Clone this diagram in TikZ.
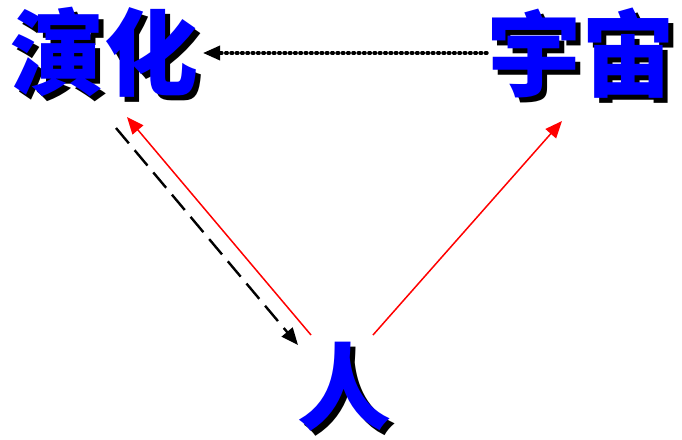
\documentclass[tikz,border=0pt]{standalone}
\usepackage{fontspec}
\newfontfamily\cjk{Noto Sans CJK SC}
\usepackage{xcolor}
\usetikzlibrary{arrows.meta}
\definecolor{wordblue}{RGB}{0,0,255}

\begin{document}
\begin{tikzpicture}[x=1pt,y=-1pt,>={Triangle[length=17pt,width=14pt]}]
    % 样式：蓝色大字与黑色阴影
    \tikzset{
        bigword/.style={font=\cjk\bfseries\fontsize{94}{94}\selectfont,inner sep=0pt,text=wordblue},
        wordshadow/.style={bigword,text=black},
    }
    \def\sh{5}   % 阴影偏移

    % 画布范围
    \useasboundingbox (0,0) rectangle (682,439);

    % 阴影文字
    \node[wordshadow] at (104+\sh,52+\sh) {演化};
    \node[wordshadow] at (581+\sh,53+\sh) {宇宙};
    \node[wordshadow] at (344+\sh,387+\sh) {人};

    % 蓝色文字
    \node[bigword] (evo) at (104,52) {演化};
    \node[bigword] (cosmos) at (581,53) {宇宙};
    \node[bigword] (man) at (344,387) {人};

    % 箭头端点
    \coordinate (dotS) at (487,53);
    \coordinate (dotE) at (203,53);
    \coordinate (redLS) at (311,335);
    \coordinate (redLE) at (127,117);
    \coordinate (dashS) at (116,128);
    \coordinate (dashE) at (298,345);
    \coordinate (redRS) at (373,335);
    \coordinate (redRE) at (562,121);

    % 宇宙 -> 演化（点线）
    \draw[->,line width=3.4pt,line cap=round,dash pattern=on 1.6pt off 3.7pt] (dotS) -- (dotE);
    % 人 -> 演化（红线）
    \draw[->,red,line width=1.5pt] (redLS) -- (redLE);
    % 演化 -> 人（虚线）
    \draw[->,line width=2.4pt,dash pattern=on 20pt off 9pt] (dashS) -- (dashE);
    % 人 -> 宇宙（红线）
    \draw[->,red,line width=1.5pt] (redRS) -- (redRE);
\end{tikzpicture}
\end{document}
